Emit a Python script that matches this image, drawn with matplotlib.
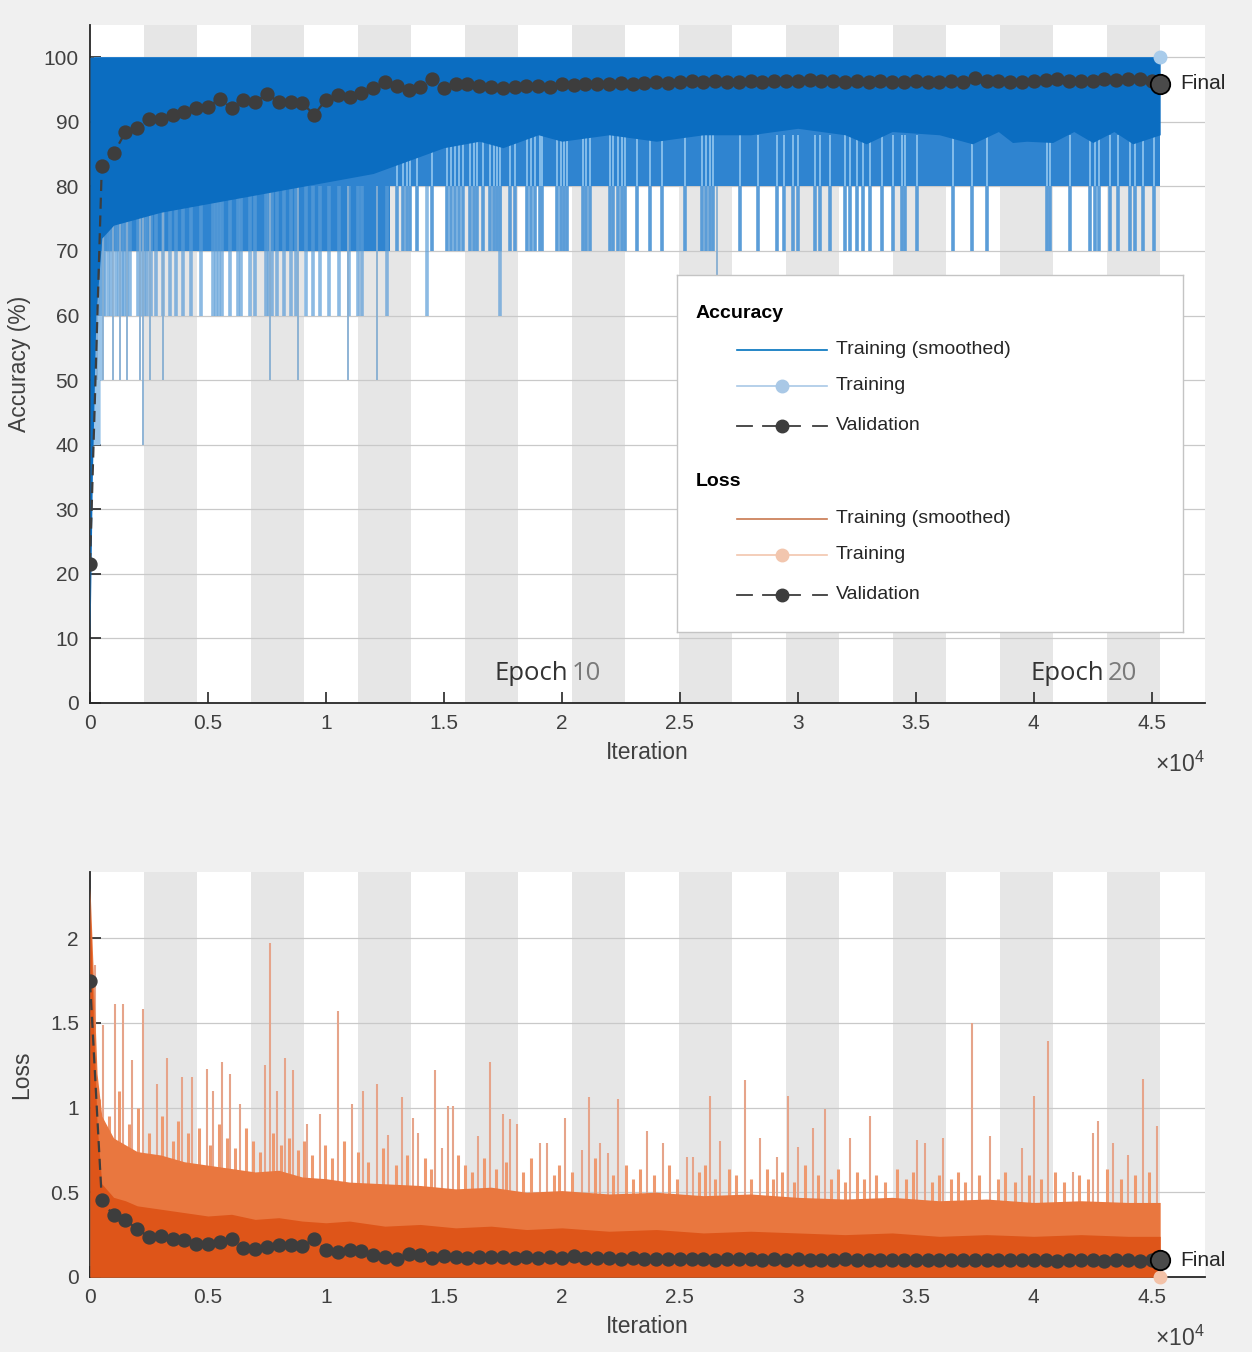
import numpy as np
import matplotlib
matplotlib.use('Agg')
import matplotlib.pyplot as plt
from matplotlib.ticker import FuncFormatter

plt.rcParams['font.family'] = ['Liberation Sans', 'DejaVu Sans']
plt.rcParams['mathtext.fontset'] = 'custom'
plt.rcParams['mathtext.rm'] = 'Liberation Sans'

# ============== data ==============
n_epochs = 20
iters_per_epoch = 2268
final_iter = 45360
val_every = 500

# validation accuracy (%) every 500 iterations, 0 ... 45000
val_acc = [21.5, 83.1, 85.1, 88.4, 89.0, 90.5, 90.4, 91.0, 91.6, 92.1,
           92.3, 93.6, 92.1, 93.4, 93.1, 94.3, 93.1, 93.1, 92.9, 91.1,
           93.4, 94.2, 93.9, 94.4, 95.2, 96.1, 95.6, 94.9, 95.4, 96.7,
           95.3, 95.8, 95.9, 95.6, 95.4, 95.3, 95.4, 95.5, 95.6, 95.4,
           95.9, 95.7, 95.8, 95.9, 95.8, 96.0, 95.9, 96.0, 96.1, 96.0,
           96.2, 96.3, 96.1, 96.4, 96.2, 96.1, 96.3, 96.2, 96.3, 96.4,
           96.3, 96.5, 96.3, 96.4, 96.2, 96.4, 96.1, 96.3, 96.2, 96.1,
           96.3, 96.2, 96.1, 96.4, 96.2, 96.8, 96.4, 96.4, 96.2, 96.1,
           96.3, 96.5, 96.6, 96.3, 96.4, 96.3, 96.7, 96.5, 96.7, 96.6,
           96.4]
final_val_acc = 95.9

# validation loss every 500 iterations
val_loss = [1.745, 0.452, 0.363, 0.334, 0.285, 0.236, 0.240, 0.226, 0.216, 0.196,
            0.196, 0.206, 0.226, 0.173, 0.167, 0.177, 0.187, 0.187, 0.180, 0.226,
            0.157, 0.147, 0.157, 0.153, 0.128, 0.118, 0.108, 0.138, 0.128, 0.110,
            0.122, 0.118, 0.115, 0.118, 0.120, 0.118, 0.115, 0.117, 0.112, 0.116,
            0.110, 0.125, 0.112, 0.110, 0.112, 0.108, 0.110, 0.106, 0.108, 0.105,
            0.107, 0.104, 0.106, 0.103, 0.105, 0.108, 0.104, 0.103, 0.105, 0.102,
            0.104, 0.101, 0.103, 0.102, 0.104, 0.101, 0.103, 0.100, 0.102, 0.101,
            0.103, 0.100, 0.102, 0.099, 0.101, 0.098, 0.100, 0.099, 0.101, 0.100,
            0.098, 0.100, 0.097, 0.099, 0.100, 0.098, 0.097, 0.099, 0.098, 0.097,
            0.098]
final_val_loss = 0.100

# training accuracy: start of run (envelope of the first raw values)
acc_start_iter = [0, 40, 430, 430, 520, 520, 650]
acc_start_lo = [10, 40, 40, 50, 50, 60, 60]

# smoothed training accuracy, lower envelope of the dark band
acc_smooth_iter = [0, 100, 250, 500, 1000, 2000, 3000, 4500, 6000, 7500, 9000,
                   10500, 12000, 13500, 15000, 16500, 17500, 19000, 20000, 22000,
                   24000, 26000, 28000, 30000, 32000, 32900, 34000, 36000, 37400,
                   38500, 39100, 39700, 40800, 41700, 42500, 43400, 44200, 45360]
acc_smooth_lo = [10, 35, 60, 72, 74, 75, 76, 77, 78, 79, 80,
                 81, 82, 84, 86, 87, 86, 88, 87, 88,
                 87, 88, 88, 89, 88, 86.6, 88.5, 88, 86.6,
                 88.5, 86.8, 87, 86.8, 88.5, 86.8, 88.5, 86.6, 88]

# raw training accuracy dips (iteration of dip), grouped by the level reached
acc_dips_70 = [13020, 13275, 13444, 13571, 13868, 14503, 15139, 15308, 15478,
               15648, 15817, 16113, 16283, 16410, 16664, 16961, 17130, 17257,
               17384, 17808, 18020, 18528, 18698, 18867, 19079, 19164, 19800,
               19969, 20096, 20223, 20901, 21028, 21198, 22045, 22172, 22384,
               22554, 22681, 23189, 23740, 24249, 25223, 25943, 26113, 26282,
               26409, 27553, 28316, 29121, 29418, 29799, 30011, 30731, 30943,
               31366, 32002, 32214, 32511, 32765, 33061, 33570, 34036, 34417,
               34544, 35053, 36578, 37383, 38019, 40561, 40688, 41535, 42383,
               42595, 42764, 43230, 43569, 44077, 44289, 44628, 45094]
acc_dips_66 = [26583]
acc_dips_60 = [97, 225, 352, 479, 606, 775, 902, 1114, 1242, 1369, 1453, 1580,
               1707, 2046, 2173, 2300, 2428, 2597, 2809, 3106, 3402, 3656, 3953,
               4292, 4716, 5224, 5351, 5478, 5605, 5944, 6283, 6410, 6791, 7003,
               7469, 7597, 7724, 7935, 8232, 8528, 8740, 9164, 9460, 9757, 10138,
               10562, 10986, 11367, 11536, 12596, 14291, 17384]
acc_dips_50 = [309, 564, 987, 1284, 1580, 2131, 2555, 3106, 7639, 8825, 10944, 12173]
acc_dips_40 = [2258]

# training loss: envelopes of the smoothed band and the dense raw band
loss_env_iter = [0, 150, 300, 500, 1000, 1500, 2000, 3000, 4000, 5000, 6000,
                 7000, 8000, 9000, 10000, 11000, 12500, 14000, 15500, 17000,
                 18500, 20000, 22000, 24000, 26000, 28000, 30000, 32000, 34000,
                 36000, 38000, 40000, 42000, 44000, 45360]
loss_smooth_top = [2.2, 1.5, 0.9, 0.55, 0.47, 0.45, 0.42, 0.40, 0.38, 0.36, 0.37,
                   0.34, 0.35, 0.33, 0.32, 0.33, 0.30, 0.31, 0.29, 0.30,
                   0.28, 0.29, 0.27, 0.28, 0.26, 0.27, 0.26, 0.25, 0.26,
                   0.24, 0.25, 0.24, 0.25, 0.24, 0.24]
loss_raw_top = [2.3, 1.75, 1.2, 0.95, 0.82, 0.78, 0.74, 0.72, 0.68, 0.66, 0.64,
                0.62, 0.63, 0.59, 0.58, 0.56, 0.55, 0.54, 0.52, 0.53,
                0.50, 0.51, 0.49, 0.50, 0.48, 0.49, 0.47, 0.46, 0.47,
                0.45, 0.46, 0.44, 0.45, 0.44, 0.44]

# tall raw loss spikes
loss_spike_iter = [140, 225, 564, 1072, 1411, 1792, 2258, 2851, 3275, 3910,
                   4334, 4970, 5224, 5605, 5944, 6368, 7427, 7639, 7935, 8274,
                   8613, 9206, 9757, 10520, 11113, 11580, 12173, 12639, 13232,
                   13698, 13910, 14630, 14927, 15181, 15393, 16452, 16960, 17511,
                   17808, 18104, 19079, 19376, 20138, 20859, 21155, 21621, 21960,
                   22384, 23613, 24291, 25308, 25562, 26282, 26706, 27765, 28401,
                   29121, 29587, 30011, 30647, 31155, 32214, 33061, 35053, 35392,
                   36154, 37383, 38146, 39502, 40010, 40604, 41663, 42510, 42722,
                   43357, 43993, 44628, 45221]
loss_spike_val = [1.70, 1.84, 1.49, 1.61, 1.61, 1.28, 1.58, 1.14, 1.29, 1.18,
                  1.18, 1.23, 1.10, 1.27, 1.20, 1.02, 1.25, 1.97, 1.10, 1.29,
                  1.22, 0.90, 0.96, 1.57, 1.02, 1.10, 1.14, 0.84, 1.06, 0.94,
                  0.85, 1.22, 0.76, 1.01, 1.01, 0.83, 1.27, 0.96, 0.93, 0.90,
                  0.79, 0.79, 0.94, 0.75, 1.06, 0.79, 0.73, 1.05, 0.86, 0.79,
                  0.71, 0.71, 1.07, 0.80, 1.16, 0.82, 0.71, 1.07, 0.77, 0.88,
                  0.99, 0.82, 0.95, 0.81, 0.79, 0.82, 1.50, 0.83, 0.76, 1.07,
                  1.39, 0.62, 0.85, 0.92, 0.79, 0.72, 1.17, 0.89]

# shorter raw loss stripes in the dense part of the band
loss_mid_iter = [380, 800, 1250, 1650, 2050, 2500, 3050, 3500, 3750, 4150, 4600,
                 5100, 5450, 5800, 6150, 6600, 6900, 7200, 7750, 8100, 8450, 8800,
                 9050, 9400, 9950, 10250, 10750, 11350, 11800, 12400, 12950, 13450,
                 14200, 14450, 15600, 15900, 16200, 16700, 17200, 17650, 18350,
                 18700, 19650, 19900, 20450, 21400, 22150, 22700, 23000, 23300,
                 23900, 24550, 24900, 25800, 26050, 26500, 27100, 27400, 28000,
                 28700, 28950, 29350, 29850, 30300, 30850, 31400, 31700, 32000,
                 32500, 32800, 33300, 33700, 34200, 34600, 34900, 35700, 36000,
                 36500, 36800, 37100, 37700, 38500, 38800, 39200, 39800, 40300,
                 40900, 41300, 41900, 42300, 43100, 43700, 44300, 44900]
loss_mid_val = [1.05, 0.95, 1.10, 0.90, 1.00, 0.85, 0.95, 0.80, 0.92, 0.85, 0.88,
                0.78, 0.90, 0.82, 0.76, 0.88, 0.80, 0.74, 0.85, 0.78, 0.82, 0.75,
                0.80, 0.72, 0.78, 0.70, 0.80, 0.74, 0.68, 0.76, 0.66, 0.72,
                0.70, 0.64, 0.72, 0.66, 0.62, 0.70, 0.64, 0.68, 0.62,
                0.70, 0.60, 0.66, 0.62, 0.70, 0.60, 0.66, 0.58, 0.64,
                0.60, 0.66, 0.58, 0.62, 0.66, 0.58, 0.64, 0.60, 0.58,
                0.64, 0.58, 0.62, 0.56, 0.66, 0.60, 0.58, 0.64, 0.56,
                0.62, 0.58, 0.60, 0.56, 0.64, 0.58, 0.62, 0.56, 0.60,
                0.58, 0.62, 0.56, 0.60, 0.58, 0.62, 0.56, 0.60, 0.58,
                0.62, 0.56, 0.60, 0.58, 0.64, 0.58, 0.60, 0.62]

# ============== colours ==============
fig_bg = '#f0f0f0'
band_gray = '#e6e6e6'
blue_dark = '#0b6dc1'
blue_mid = '#2f84d0'
blue_raw = '#5b9dd8'
blue_light = '#8cc2ec'
blue_thin = '#86aed2'
orange_dark = '#de5519'
orange_mid = '#e9773f'
orange_stripe = '#ee9a70'
orange_raw = '#e6a48a'
val_color = '#3d3d3d'
txt = '#262626'

val_iter = np.arange(len(val_acc)) * val_every


def style_axes(ax, ymax):
    ax.set_xlim(0, 47260)
    ax.set_ylim(0, ymax)
    for k in range(2, n_epochs + 1, 2):
        ax.axvspan((k - 1) * iters_per_epoch, k * iters_per_epoch,
                   color=band_gray, lw=0, zorder=0)
    ax.set_axisbelow(True)
    ax.yaxis.grid(True, color='#c9c9c9', lw=0.9)
    for s in ['top', 'right']:
        ax.spines[s].set_visible(False)
    for s in ['left', 'bottom']:
        ax.spines[s].set_color(txt)
        ax.spines[s].set_linewidth(1.3)
    ax.set_xticks(np.arange(0, 45001, 5000))
    ax.xaxis.set_major_formatter(FuncFormatter(lambda v, _: f'{v / 1e4:g}'))
    ax.tick_params(direction='in', length=8, width=1.2, colors=txt,
                   labelsize=15, labelcolor='#404040', pad=8)
    ax.set_xlabel('Iteration', fontsize=16.5, color='#404040', labelpad=6)
    ax.annotate(r'$\times 10^{4}$', xy=(1, 0), xycoords='axes fraction',
                xytext=(0, -44), textcoords='offset points', ha='right',
                va='center', fontsize=16.5, color='#404040')


fig = plt.figure(figsize=(12.52, 13.52), dpi=100, facecolor=fig_bg)

# ============== accuracy ==============
ax1 = fig.add_axes([90 / 1252, 1 - 703 / 1352, 1115 / 1252, 678 / 1352])
style_axes(ax1, 105)
ax1.set_yticks(np.arange(0, 101, 10))
ax1.set_ylabel('Accuracy (%)', fontsize=16.5, color='#404040', labelpad=9)

ax1.fill_between(acc_start_iter, acc_start_lo, 100, color='#9cc6ea', lw=0, zorder=2)
ax1.fill_between([150, 12700], 70, 100, color=blue_mid, lw=0, zorder=2)
ax1.fill_between([150, final_iter], 80, 100, color=blue_mid, lw=0, zorder=2)
ax1.vlines(acc_dips_60, 60, 80, colors=blue_raw, lw=2.6, alpha=0.7, zorder=2)
ax1.vlines(acc_dips_50, 50, 80, colors=blue_thin, lw=1.3, zorder=2)
ax1.vlines(acc_dips_40, 40, 80, colors=blue_thin, lw=1.3, zorder=2)
ax1.vlines(acc_dips_66, 66, 80, colors=blue_thin, lw=1.3, zorder=2)
ax1.vlines(acc_dips_70, 70, 80, colors=blue_raw, lw=2.6, zorder=2)
ax1.vlines(acc_dips_70, 80, 88, colors=blue_light, lw=1.3, zorder=2.5)
ax1.fill_between(acc_smooth_iter, acc_smooth_lo, 100, color=blue_dark, lw=0, zorder=3)
ax1.plot([final_iter], [100], 'o', ms=9, color='#a9cceb', zorder=4)

ax1.plot(val_iter, val_acc, '--o', color=val_color, lw=1.6, ms=9.3,
         mfc=val_color, mec=val_color, dashes=(5, 3), zorder=5)
ax1.plot([val_iter[-1], final_iter], [val_acc[-1], final_val_acc], '--',
         color=val_color, lw=1.6, dashes=(5, 3), zorder=5)
ax1.plot([final_iter], [final_val_acc], 'o', ms=14, mfc='#4a4a4a', mec='black',
         mew=1.3, zorder=6)
ax1.text(46200, final_val_acc, 'Final', fontsize=15, color=txt, va='center')

for split, num in [(20250, '10'), (42980, '20')]:
    ax1.text(split, 4.6, 'Epoch', fontsize=18.5, family='Open Sans',
             color='#333333', ha='right', va='center', zorder=6)
    ax1.text(split + 150, 4.6, num, fontsize=18.5, family='Open Sans',
             color='#7a7a7a', ha='left', va='center', zorder=6)

# ============== loss ==============
ax2 = fig.add_axes([90 / 1252, 1 - 1277 / 1352, 1115 / 1252, 405 / 1352])
style_axes(ax2, 2.39)
ax2.set_yticks([0, 0.5, 1, 1.5, 2])
ax2.yaxis.set_major_formatter(FuncFormatter(lambda v, _: f'{v:g}'))
ax2.set_ylabel('Loss', fontsize=16.5, color='#404040', labelpad=12)

ax2.vlines(loss_spike_iter, 0, loss_spike_val, colors=orange_raw, lw=1.5, zorder=2)
ax2.vlines(loss_mid_iter, 0, loss_mid_val, colors=orange_stripe, lw=2.2, zorder=2)
ax2.fill_between(loss_env_iter, 0, loss_raw_top, color=orange_mid, lw=0, zorder=3)
ax2.fill_between(loss_env_iter, 0, loss_smooth_top, color=orange_dark, lw=0, zorder=4)
ax2.plot([final_iter], [0.0], 'o', ms=9, color='#f3c2a8', zorder=4, clip_on=False)

ax2.plot(val_iter, val_loss, '--o', color=val_color, lw=1.6, ms=9.3,
         mfc=val_color, mec=val_color, dashes=(5, 3), zorder=5)
ax2.plot([val_iter[-1], final_iter], [val_loss[-1], final_val_loss], '--',
         color=val_color, lw=1.6, dashes=(5, 3), zorder=5)
ax2.plot([final_iter], [final_val_loss], 'o', ms=14, mfc='#4a4a4a', mec='black',
         mew=1.3, zorder=6)
ax2.text(46200, final_val_loss, 'Final', fontsize=15, color=txt, va='center')

# ============== legend box ==============
lax = fig.add_axes([677 / 1252, 1 - 632 / 1352, 506 / 1252, 357 / 1352])
lax.set_xlim(677, 1183)
lax.set_ylim(632, 275)
lax.set_xticks([])
lax.set_yticks([])
lax.set_facecolor('white')
for s in lax.spines.values():
    s.set_color('#c4c4c4')
    s.set_linewidth(1.0)


def leg_group(y0, title, smooth_col, raw_col):
    lax.text(696, y0, title, fontsize=14, fontweight='bold', color='black',
             va='center')
    lax.plot([737, 827], [y0 + 37, y0 + 37], color=smooth_col, lw=1.2)
    lax.text(836, y0 + 37, 'Training (smoothed)', fontsize=14, color=txt, va='center')
    lax.plot([737, 827], [y0 + 73, y0 + 73], color=raw_col, lw=1.2)
    lax.plot([782], [y0 + 73], 'o', ms=9, color=raw_col)
    lax.text(836, y0 + 73, 'Training', fontsize=14, color=txt, va='center')
    yv = y0 + 113
    for xa, xb in [(737, 752), (763, 800), (813, 827)]:
        lax.plot([xa, xb], [yv, yv], color=val_color, lw=1.3)
    lax.plot([782], [yv], 'o', ms=9, color=val_color)
    lax.text(836, yv, 'Validation', fontsize=14, color=txt, va='center')


leg_group(313, 'Accuracy', '#0072bd', '#a9c8e6')
leg_group(482, 'Loss', '#c8784f', '#f2c6ae')

plt.savefig('out.png', dpi=100, facecolor=fig_bg)
